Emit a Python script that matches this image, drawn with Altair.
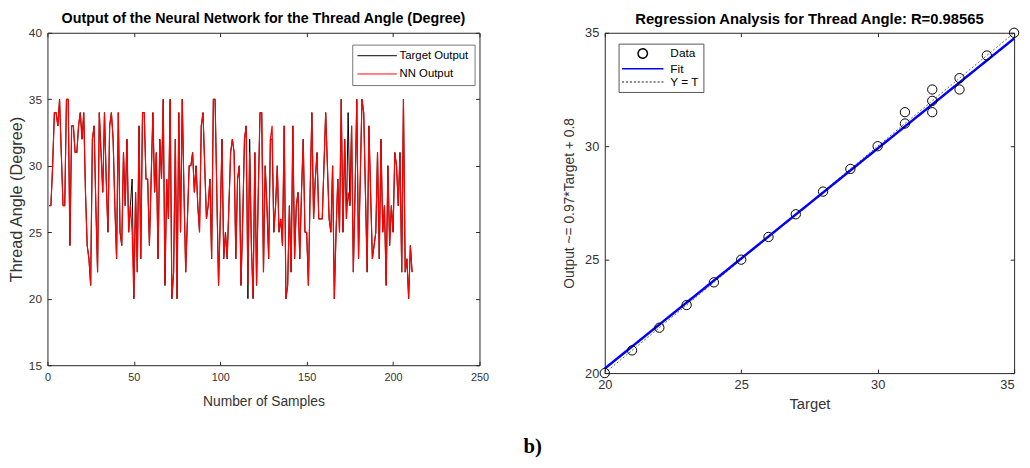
import altair as alt
import pandas as pd

# ---------------- data ----------------
samples = list(range(1, 212))

nn_output = [
    27, 27, 30, 34, 34, 33, 35, 31, 27, 27,
    35, 35, 24, 33, 33, 31, 31, 33, 34, 32,
    34, 28, 24, 23, 21, 32, 33, 27, 22, 34,
    31, 28, 34, 29, 25, 33, 34, 32, 27, 23,
    34, 25, 24, 31, 27, 32, 25, 27, 25, 20,
    28, 22, 33, 23, 34, 34, 29, 29, 24, 29,
    34, 28, 31, 23, 32, 29, 35, 21, 29, 26,
    35, 20, 22, 32, 20, 34, 25, 35, 28, 22,
    26, 30, 30, 31, 28, 30, 27, 25, 33, 34,
    30, 26, 27, 29, 23, 35, 35, 28, 21, 26,
    32, 23, 25, 23, 27, 31, 32, 31, 23, 29,
    30, 21, 26, 32, 33, 21, 31, 24, 20, 31,
    21, 28, 34, 34, 22, 30, 27, 23, 32, 33,
    25, 27, 30, 25, 26, 24, 33, 20, 21, 27,
    22, 33, 23, 27, 28, 23, 28, 32, 25, 25,
    21, 28, 34, 26, 29, 31, 26, 26, 26, 30,
    34, 30, 26, 25, 30, 20, 25, 29, 25, 35,
    25, 32, 26, 28, 27, 33, 22, 28, 35, 23,
    29, 35, 34, 28, 22, 33, 28, 23, 24, 25,
    31, 23, 32, 25, 27, 21, 30, 24, 27, 25,
    31, 30, 27, 31, 22, 35, 22, 23, 20, 24,
    22,
]

target_output = [
    27, 27, 30, 34, 34, 33, 35, 31, 27, 27,
    35, 35, 24, 33, 33, 31, 31, 33, 34, 32,
    34, 28, 24, 23, 21, 32, 33, 27, 22, 34,
    31, 28, 34, 29, 25, 33, 34, 32, 27, 23,
    34, 25, 24, 31, 27, 32, 25, 27, 29, 20,
    28, 22, 33, 23, 34, 34, 29, 29, 24, 29,
    34, 28, 31, 23, 32, 29, 35, 21, 29, 26,
    35, 20, 22, 32, 20, 34, 25, 35, 28, 22,
    26, 30, 30, 31, 28, 30, 27, 25, 33, 34,
    30, 26, 27, 29, 23, 35, 35, 28, 21, 26,
    32, 23, 25, 23, 27, 31, 32, 31, 23, 29,
    30, 21, 26, 32, 33, 20, 32, 24, 20, 31,
    21, 28, 34, 34, 22, 30, 27, 23, 32, 32,
    25, 27, 30, 25, 26, 24, 33, 20, 21, 27,
    22, 33, 23, 27, 28, 23, 28, 32, 25, 25,
    21, 28, 34, 26, 29, 31, 26, 26, 26, 30,
    34, 30, 26, 25, 30, 20, 25, 29, 25, 35,
    25, 32, 26, 34, 27, 33, 22, 28, 35, 23,
    29, 35, 34, 28, 22, 33, 28, 23, 24, 25,
    31, 23, 32, 25, 27, 21, 30, 24, 27, 25,
    31, 30, 27, 31, 22, 35, 22, 23, 20, 24,
    22,
]

reg_target = [20, 21, 22, 23, 24, 25, 26, 27, 28, 29, 30, 31, 31, 32, 32, 32, 33, 33, 34, 35]
reg_output = [20, 21, 22, 23, 24, 25, 26, 27, 28, 29, 30, 31, 31.5, 31.5, 32, 32.5, 32.5, 33, 34, 35]
fit_target = [20, 35]
fit_output = [20.2, 34.75]
ident_values = [20, 35]

left_x_ticks = [0, 50, 100, 150, 200, 250]
left_y_ticks = [15, 20, 25, 30, 35, 40]
right_ticks = [20, 25, 30, 35]
left_series = ["Target Output", "NN Output"]
right_series = ["Data", "Fit", "Y = T"]
left_colors = ["#000000", "#ff0000"]
right_colors = ["#000000", "#0000ff", "#666666"]

# ---------------- styling helpers ----------------
FONT = "Liberation Sans"
AX = "#262626"
TXT = "#333333"
LINE_PATH = "M-4,0L4,0"
CIRCLE_PATH = "M0.9,0A0.9,0.9,0,1,1,-0.9,0A0.9,0.9,0,1,1,0.9,0Z"


def axis(orient, values, labels=True, title=None, label_size=12, title_size=14,
         title_x=None, title_y=None, **extra):
    kw = dict(orient=orient, values=values, labels=labels, domain=False, grid=False,
              ticks=True, tickSize=4, tickColor=AX, tickWidth=1, offset=-4,
              labelFont=FONT, labelFontSize=label_size, labelColor=TXT,
              labelPadding=6, labelFlush=False, labelOverlap=False)
    if title is not None:
        kw.update(title=title, titleFont=FONT, titleFontSize=title_size,
                  titleFontWeight="normal", titleColor=TXT)
        if title_x is not None:
            kw.update(titleX=title_x, titleBaseline="middle")
        if title_y is not None:
            kw.update(titleY=title_y, titleBaseline="middle")
    else:
        kw["title"] = None
    kw.update(extra)
    return alt.Axis(**kw)


# ---------------- left panel ----------------
df_t = pd.DataFrame({"sample": samples, "value": target_output, "series": "Target Output"})
df_n = pd.DataFrame({"sample": samples, "value": nn_output, "series": "NN Output"})

lx = alt.Scale(domain=[0, 250], nice=False, zero=False)
ly = alt.Scale(domain=[15, 40], nice=False, zero=False)

left_legend = alt.Legend(
    title=None, orient="none", legendX=309, legendY=12,
    symbolType=LINE_PATH, symbolSize=100, symbolStrokeWidth=1,
    symbolOffset=14, labelOffset=17, labelFont=FONT, labelFontSize=11.5,
    labelColor="#000000", padding=5.5, rowPadding=5.5,
    strokeColor="#777777", fillColor="#ffffff", cornerRadius=0,
)
left_color = alt.Color("series:N", scale=alt.Scale(domain=left_series, range=left_colors),
                       legend=left_legend)

left_t = alt.Chart(df_t).mark_line(strokeWidth=1).encode(
    x=alt.X("sample:Q", scale=lx,
            axis=axis("bottom", left_x_ticks, title="Number of Samples", label_size=11,
                      title_size=14, title_y=41, labelPadding=7)),
    y=alt.Y("value:Q", scale=ly,
            axis=axis("left", left_y_ticks, title="Thread Angle (Degree)", label_size=12,
                      title_size=16.5, title_x=-35)),
    color=left_color,
)
left_n = alt.Chart(df_n).mark_line(strokeWidth=1.2).encode(
    x=alt.X("sample:Q", scale=lx, axis=axis("top", left_x_ticks, labels=False)),
    y=alt.Y("value:Q", scale=ly, axis=axis("right", left_y_ticks, labels=False)),
    color=left_color,
)
left = alt.layer(left_t, left_n).resolve_axis(x="independent", y="independent").properties(
    width=438, height=337,
    title=alt.TitleParams("Output of the Neural Network for the Thread Angle (Degree)",
                          font=FONT, fontSize=14.5, fontWeight="bold", color="#000000",
                          offset=0, anchor="middle", frame="group"),
)

# ---------------- right panel ----------------
df_pts = pd.DataFrame({"target": reg_target, "output": reg_output, "series": "Data"})
df_fit = pd.DataFrame({"target": fit_target, "output": fit_output, "series": "Fit"})
df_id = pd.DataFrame({"target": ident_values, "output": ident_values, "series": "Y = T"})

rx = alt.Scale(domain=[20, 35], nice=False, zero=False)
ry = alt.Scale(domain=[20, 35], nice=False, zero=False)

right_legend = alt.Legend(
    title=None, orient="none", legendX=14, legendY=11,
    symbolSize=110, symbolStrokeWidth=1.5, symbolOffset=14.5, labelOffset=22,
    labelFont=FONT, labelFontSize=12, labelColor="#000000", padding=4, rowPadding=1.5,
    strokeColor="#555555", fillColor="#ffffff", cornerRadius=0,
)
right_color = alt.Color("series:N", scale=alt.Scale(domain=right_series, range=right_colors),
                        legend=right_legend)
shape_enc = alt.Shape("series:N",
                      scale=alt.Scale(domain=right_series, range=[CIRCLE_PATH, LINE_PATH, LINE_PATH]),
                      legend=right_legend)
dash_enc = alt.StrokeDash("series:N",
                          scale=alt.Scale(domain=right_series, range=[[1, 0], [1, 0], [2, 2]]),
                          legend=right_legend)

ident = alt.Chart(df_id).mark_line(strokeWidth=1).encode(
    x=alt.X("target:Q", scale=rx, axis=axis("top", right_ticks, labels=False)),
    y=alt.Y("output:Q", scale=ry, axis=axis("right", right_ticks, labels=False)),
    color=right_color, strokeDash=dash_enc,
)
fit = alt.Chart(df_fit).mark_line(strokeWidth=2.5).encode(
    x=alt.X("target:Q", scale=rx, axis=None),
    y=alt.Y("output:Q", scale=ry, axis=None),
    color=right_color, strokeDash=dash_enc,
)
pts = alt.Chart(df_pts).mark_point(filled=False, size=110, strokeWidth=1, opacity=1).encode(
    x=alt.X("target:Q", scale=rx,
            axis=axis("bottom", right_ticks, title="Target", label_size=13, title_size=15,
                      title_y=35,
                      labelAlign={"condition": {"test": "datum.value == 35", "value": "right"},
                                  "value": "center"})),
    y=alt.Y("output:Q", scale=ry,
            axis=axis("left", right_ticks, title="Output ~= 0.97*Target + 0.8", label_size=13,
                      title_size=14, title_x=-40)),
    color=right_color, shape=shape_enc,
)
right = alt.layer(ident, fit, pts).resolve_axis(x="independent", y="independent").properties(
    width=415, height=345,
    title=alt.TitleParams("Regression Analysis for Thread Angle: R=0.98565",
                          font=FONT, fontSize=15, fontWeight="bold", color="#000000",
                          offset=-1, anchor="middle", frame="group"),
)

chart = alt.hconcat(left, right, spacing=127, bounds="flush").resolve_scale(
    color="independent", shape="independent", strokeDash="independent"
).properties(
    padding={"left": 0, "top": 0, "right": 0, "bottom": 0},
    title=alt.TitleParams("b)", orient="bottom", anchor="middle", font="Liberation Serif",
                          fontSize=21, fontWeight="bold", color="#000000", offset=25, dx=18),
).configure_view(stroke=AX, strokeWidth=1)

chart.save("out.html", embed_options={"renderer": "svg", "actions": False})
